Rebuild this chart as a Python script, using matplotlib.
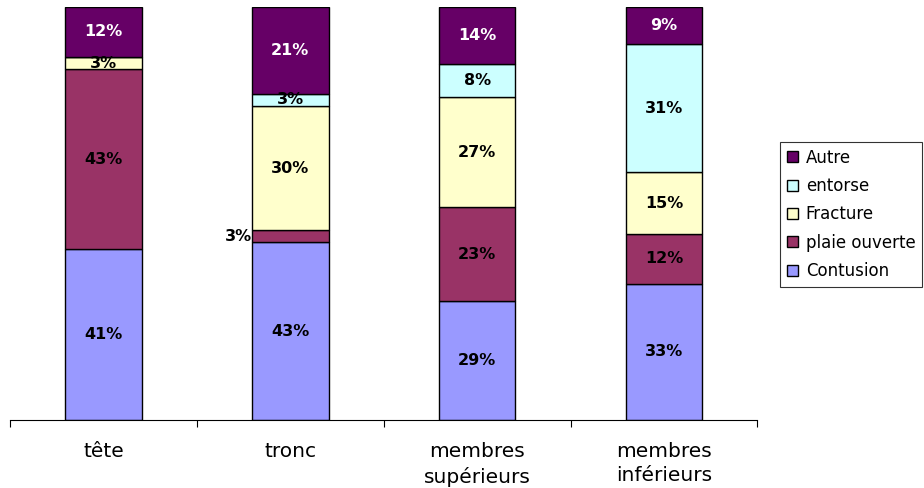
import numpy as np
import matplotlib
matplotlib.use("Agg")
import matplotlib.pyplot as plt

plt.rcParams['font.family'] = ['DejaVu Sans']

categories = ["tête", "tronc", "membres\nsupérieurs", "membres\ninférieurs"]
series = ["Contusion", "plaie ouverte", "Fracture", "entorse", "Autre"]

contusion = [41, 43, 29, 33]
plaie = [43, 3, 23, 12]
fracture = [3, 30, 27, 15]
entorse = [0, 3, 8, 31]
autre = [12, 21, 14, 9]

colors = ["#9999FF", "#993366", "#FFFFCC", "#CCFFFF", "#660066"]
text_colors = ["black", "black", "black", "black", "white"]

data = np.array([contusion, plaie, fracture, entorse, autre], dtype=float)
shares = data / data.sum(axis=0)  # 100% stacked

fig = plt.figure(figsize=(9.24, 4.88), dpi=100)
ax = fig.add_axes([0.0108, 0.139, 0.809, 0.847])

x = np.arange(len(categories))
bottom = np.zeros(len(categories))
handles = []
for i, name in enumerate(series):
    h = ax.bar(x, shares[i], 0.41, bottom=bottom, color=colors[i],
               edgecolor="black", linewidth=1.0, label=name)
    handles.append(h)
    for j in range(len(categories)):
        v = data[i, j]
        if v == 0:
            continue
        yc = bottom[j] + shares[i, j] / 2
        if name == "plaie ouverte" and v < 5:
            # small segment label placed to the left of the bar
            ax.text(x[j] - 0.205, yc, f"{int(v)}%", ha="right", va="center",
                    fontsize=11.5, fontweight="bold", color="black")
        else:
            ax.text(x[j], yc, f"{int(v)}%", ha="center", va="center",
                    fontsize=11.5, fontweight="bold", color=text_colors[i])
    bottom += shares[i]

ax.set_xlim(-0.5, len(categories) - 0.5)
ax.set_ylim(0, 1)
for s in ["left", "right", "top"]:
    ax.spines[s].set_visible(False)
ax.spines["bottom"].set_linewidth(0.8)
ax.set_yticks([])
ax.set_xticks(np.arange(len(categories) + 1) - 0.5, minor=False)
ax.set_xticklabels([])
ax.tick_params(axis="x", length=5, width=0.8, direction="out")
ax.set_xticks(x, minor=True)
ax.set_xticklabels(categories, minor=True, fontsize=14.5, linespacing=1.32)
ax.tick_params(axis="x", which="minor", length=0, pad=16)

leg = ax.legend(handles[::-1], series[::-1], loc="upper left",
                bbox_to_anchor=(0.8442, 0.709), bbox_transform=fig.transFigure,
                frameon=True, fancybox=False, edgecolor="black",
                fontsize=12, handlelength=0.65, handleheight=0.65,
                handletextpad=0.5, labelspacing=0.62, borderpad=0.4,
                borderaxespad=0)
leg.get_frame().set_linewidth(0.8)

fig.savefig("out.png", dpi=100)
